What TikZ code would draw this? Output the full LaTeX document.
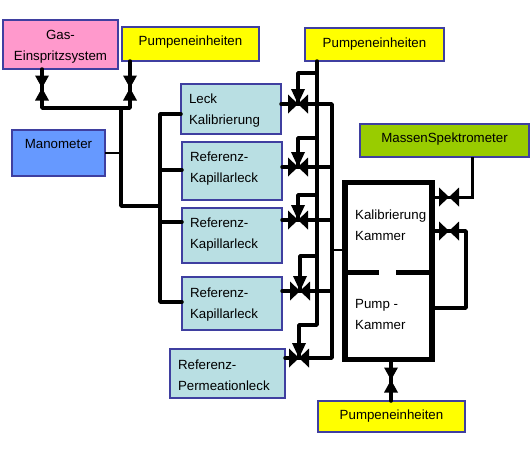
\documentclass[tikz,border=0pt]{standalone}
\usepackage{fontspec}
\setmainfont{Liberation Sans}
\definecolor{rahmen}{HTML}{3F3FA0}
\definecolor{rosa}{HTML}{FF99CC}
\definecolor{gelb}{HTML}{FFFF00}
\definecolor{blau}{HTML}{6699FF}
\definecolor{leckblau}{HTML}{B9DFE3}
\definecolor{gruen}{HTML}{99CC00}
\tikzset{
  box/.style={draw=rahmen, line width=1.5pt, rectangle, anchor=north west, outer sep=0pt, inner sep=0pt, font=\fontsize{13.3}{21}\selectfont, align=center},
  leckbox/.style={box, fill=leckblau, align=left, inner xsep=8pt, text width=#1},
  leckbox/.default=84pt,
  rohr/.style={line width=3.5pt, line cap=round, line join=round},
  ventilh/.pic={\fill (-10,-9.5) -- (10,9.5) -- (10,-9.5) -- (-10,9.5) -- cycle;},
  ventilv/.pic={\fill (-7,-12.5) -- (7,12.5) -- (-7,12.5) -- (7,-12.5) -- cycle;},
  ventilz/.pic={\fill (-7,-15) -- (7,-15) -- (0,0) -- cycle;},
}

\begin{document}
\begin{tikzpicture}[x=1pt, y=-1pt]
  \useasboundingbox (0,0) rectangle (532,451);

  % Kaesten
  \node[box, fill=rosa, minimum width=115pt, minimum height=49pt, text height=34pt] (gas) at (3,20) {Gas-\\Einspritzsystem};
  \node[box, fill=gelb, minimum width=137pt, minimum height=34pt, text depth=6pt] (pumpa) at (122,27) {Pumpeneinheiten};
  \node[box, fill=gelb, minimum width=139pt, minimum height=33pt, text depth=4pt] (pumpb) at (305,28) {Pumpeneinheiten};
  \node[box, fill=gelb, minimum width=147pt, minimum height=31pt, text depth=3pt] (pumpc) at (318,401) {Pumpeneinheiten};
  \node[box, fill=blau, minimum width=93pt, minimum height=46pt, text depth=18pt] (mano) at (12,130) {Manometer};
  \node[box, fill=gruen, minimum width=169pt, minimum height=33pt, text depth=6pt] (masse) at (360,124) {MassenSpektrometer};
  \node[leckbox, minimum height=50pt, text height=13.5pt] (leck) at (181,84) {Leck\\Kalibrierung};
  \node[leckbox, minimum height=58pt, text depth=28pt] (refa) at (182,142) {Referenz-\\Kapillarleck};
  \node[leckbox, minimum height=55pt, text depth=26pt] (refb) at (182,208) {Referenz-\\Kapillarleck};
  \node[leckbox, minimum height=53pt, text height=11.5pt] (refc) at (182,277) {Referenz-\\Kapillarleck};
  \node[leckbox=99pt, minimum height=49pt, text height=13.5pt] (perm) at (170,349) {Referenz-\\Permeationleck};

  % Kammer
  \coordinate (kammerol) at (345,182.5);
  \coordinate (kammerur) at (432,359.5);
  \draw[line width=5.5pt] (kammerol) rectangle (kammerur);
  \draw[line width=5pt] (kammerol |- 0,272) -- (379,272);
  \draw[line width=5pt] (396,272) -- (kammerur |- 0,272);
  \node[anchor=base west, font=\fontsize{13.3}{21}\selectfont, align=left, inner sep=0pt] (kalib) at (355,240) {Kalibrierung\\Kammer};
  \node[anchor=base west, font=\fontsize{13.3}{21}\selectfont, align=left, inner sep=0pt] (pumpk) at (355,329) {Pump -\\Kammer};

  % Ventile
  \coordinate (va) at (42,88);
  \coordinate (vb) at (130,88);
  \coordinate (vleck) at (298,104);
  \coordinate (vrefa) at (298,167);
  \coordinate (vrefb) at (298,220);
  \coordinate (vrefc) at (300,291);
  \coordinate (vperm) at (299,358);
  \coordinate (vmasse) at (449,197);
  \coordinate (vkammer) at (449,231);
  \coordinate (vpump) at (391,380);

  % Hilfspunkte
  \coordinate (knoten) at (121,108);
  \coordinate (vert) at (160,206);
  \coordinate (sauga) at (317,325);
  \coordinate (saugb) at (332,358);

  % links
  \draw[rohr] (va |- gas.south) |- (vb |- knoten) -- (vb |- pumpa.south);
  \draw[rohr] (knoten) |- (vert);
  \draw[line width=2.5pt] (mano.east) -- (mano.east -| knoten);
  \draw[rohr] (leck.west |- 0,114) -| (vert |- 0,302) -- (refc.west |- 0,302);
  \draw[rohr] (vert |- 0,170) -- (refa.west |- 0,170);
  \draw[rohr] (vert |- 0,222) -- (refb.west |- 0,222);

  % rechts
  \draw[rohr] (sauga |- pumpb.south) -- (sauga) -| (vperm);
  \foreach \v/\y in {vleck/73, vrefa/138, vrefb/195, vrefc/256} {
    \draw[rohr] (sauga |- 0,\y) -| (\v);
  }
  \draw[rohr] (leck.east |- vleck) -- (saugb |- vleck) -- (saugb) -- (vperm);
  \draw[rohr] (refa.east |- vrefa) -- (saugb |- vrefa);
  \draw[rohr] (refb.east |- vrefb) -- (saugb |- vrefb);
  \draw[rohr] (refc.east |- vrefc) -- (saugb |- vrefc);
  \draw[rohr] (perm.east |- vperm) -- (vperm);
  \draw[line width=2pt] (saugb |- 0,250) -- (kammerol |- 0,250);

  % Massenspektrometer und Pumpe
  \draw[line width=3pt] (472,157) |- (vmasse) -- (kammerur |- vmasse);
  \draw[rohr] (kammerur |- vkammer) -- (466,231) |- (kammerur |- 0,308);
  \draw[rohr] (vpump |- kammerur) -- (vpump |- pumpc.north);

  % Ventilkoerper
  \foreach \v in {va, vb, vpump} {
    \pic at (\v) {ventilv};
  }
  \foreach \v in {vleck, vrefa, vrefb, vrefc, vperm, vmasse, vkammer} {
    \pic at (\v) {ventilh};
  }
  \foreach \v in {vleck, vrefa, vrefb, vrefc, vperm} {
    \pic at (\v) {ventilz};
  }
\end{tikzpicture}
\end{document}
